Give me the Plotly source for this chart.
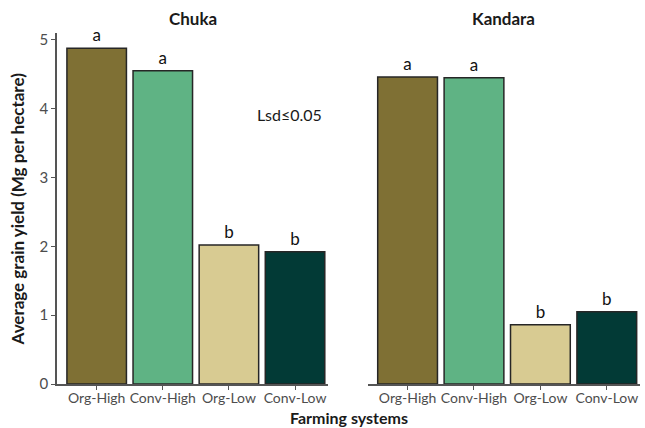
import plotly.graph_objects as go

systems = ["Org-High", "Conv-High", "Org-Low", "Conv-Low"]
sites = ["Chuka", "Kandara"]
chuka_yield = [4.88, 4.55, 2.02, 1.92]
kandara_yield = [4.46, 4.45, 0.86, 1.05]
chuka_letters = ["a", "a", "b", "b"]
kandara_letters = ["a", "a", "b", "b"]
bar_colors = ["#7f7034", "#5fb384", "#d8cb92", "#023a36"]
y_ticks = [0, 1, 2, 3, 4, 5]

FONT = "Lato, 'Open Sans', sans-serif"
fig = go.Figure()

for i, (vals, letters) in enumerate([(chuka_yield, chuka_letters), (kandara_yield, kandara_letters)]):
    fig.add_trace(go.Bar(
        x=systems, y=vals,
        xaxis="x" if i == 0 else "x2", yaxis="y" if i == 0 else "y2",
        marker=dict(color=bar_colors, line=dict(color="#262626", width=1.5)),
        width=0.9, text=letters, textposition="outside",
        textfont=dict(size=17, color="#111111", family=FONT),
        cliponaxis=False, showlegend=False, hoverinfo="skip",
    ))

axis_common = dict(
    showgrid=False, zeroline=False, showline=True, linecolor="#555555", linewidth=1.5,
    ticks="outside", ticklen=4, tickcolor="#555555", automargin=False, tickangle=0,
    ticklabelstandoff=-4,
    tickfont=dict(size=14, color="#4d4d4d", family=FONT),
    range=[-0.6, 3.5], fixedrange=True,
)

fig.update_layout(
    width=645, height=428,
    margin=dict(l=57, r=5, t=33, b=44),
    paper_bgcolor="white", plot_bgcolor="white",
    xaxis=dict(domain=[0, 0.465], anchor="y", **axis_common),
    xaxis2=dict(domain=[0.533, 1.0], anchor="y2", **axis_common),
    yaxis=dict(range=[0, 5.1], tickvals=y_ticks, showgrid=False, zeroline=False,
               showline=True, linecolor="#555555", linewidth=1.5, automargin=False,
               ticks="outside", ticklen=4, tickcolor="#555555", fixedrange=True,
               tickfont=dict(size=15, color="#4d4d4d", family=FONT)),
    yaxis2=dict(range=[0, 5.1], anchor="x2", showgrid=False, automargin=False,
                zeroline=False, showline=False, showticklabels=False, ticks="",
                fixedrange=True),
)

title_font = dict(size=17, color="#1a1a1a", family=FONT)
annotations = [
    dict(text="<b>Chuka</b>", x=0.2325, y=1.0, xref="paper", yref="paper",
         xanchor="center", yanchor="bottom", yshift=2, showarrow=False, font=title_font),
    dict(text="<b>Kandara</b>", x=0.7665, y=1.0, xref="paper", yref="paper",
         xanchor="center", yanchor="bottom", yshift=2, showarrow=False, font=title_font),
    dict(text="<b>Average grain yield (Mg per hectare)</b>", x=-0.067, y=0.5,
         xref="paper", yref="paper", textangle=-90, showarrow=False,
         xanchor="center", yanchor="middle", font=title_font),
    dict(text="<b>Farming systems</b>", x=0.5, y=-44 / 351, xref="paper", yref="paper",
         xanchor="center", yanchor="bottom", yshift=-1, showarrow=False,
         font=dict(size=16, color="#1a1a1a", family=FONT)),
    dict(text="Lsd\u22640.05", x=0.398, y=3.91, xref="paper", yref="y",
         xanchor="center", showarrow=False, font=dict(size=16, color="#1a1a1a", family=FONT)),
]
fig.update_layout(annotations=annotations)

fig.write_html("out.html", config={"displayModeBar": False},
               post_script="document.body.style.margin='0px';")
